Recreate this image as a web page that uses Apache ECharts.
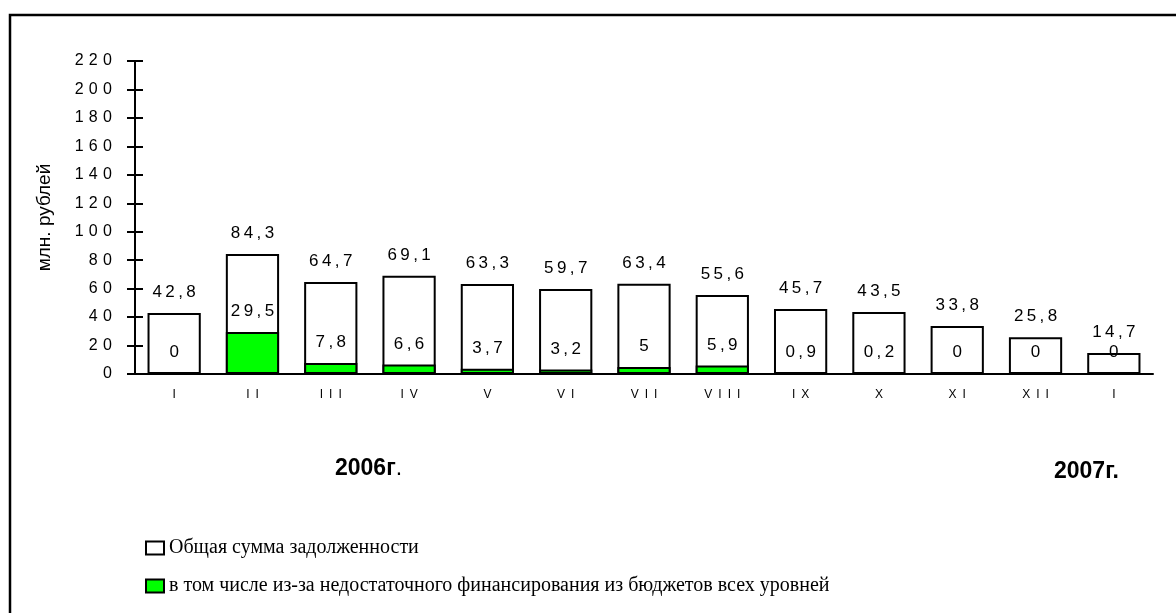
<!DOCTYPE html>
<html>
<head>
<meta charset="utf-8">
<script src="https://cdn.jsdelivr.net/npm/echarts@6/dist/echarts.min.js"></script>
<style>
  html, body { margin: 0; padding: 0; background: #fff; }
  #chart { width: 1176px; height: 613px; }
</style>
</head>
<body>
<div id="chart"></div>
<script>
  // месяцы
  var months = ['I', 'II', 'III', 'IV', 'V', 'VI', 'VII', 'VIII', 'IX', 'X', 'XI', 'XII', 'I'];
  // общая сумма задолженности, млн. рублей
  var totalDebt = [42.8, 84.3, 64.7, 69.1, 63.3, 59.7, 63.4, 55.6, 45.7, 43.5, 33.8, 25.8, 14.7];
  // в том числе из-за недостаточного финансирования
  var budgetDebt = [0, 29.5, 7.8, 6.6, 3.7, 3.2, 5, 5.9, 0.9, 0.2, 0, 0, 0];
  var yMin = 0, yMax = 220, yStep = 20;

  var seriesNames = ['Общая сумма задолженности',
    'в том числе из-за недостаточного финансирования из бюджетов всех уровней'];

  // разрядка как в оригинале: "8 4 , 3"
  function spaced (v, gap) {
    return String(v).replace('.', ',').split('').join(gap);
  }

  var valueLabel = {
    show: true,
    position: 'top',
    distance: 12,
    color: '#000',
    fontFamily: 'Liberation Sans, Arial',
    fontSize: 17,
    formatter: function (p) { return spaced(p.value, '\u2009'); }
  };

  var myChart = echarts.init(document.getElementById('chart'));
  var option = {
    backgroundColor: '#fff',
    animation: false,
    grid: { left: 135, right: 23, top: 61, bottom: 239 },
    legend: {
      orient: 'vertical',
      left: 140,
      top: 533,
      itemGap: 18,
      itemWidth: 18,
      itemHeight: 13,
      icon: 'rect',
      data: seriesNames,
      textStyle: { color: '#000', fontFamily: 'Liberation Serif, Times New Roman', fontSize: 20, lineHeight: 20 }
    },
    xAxis: [{
      type: 'category',
      data: months,
      axisLine: { lineStyle: { color: '#000', width: 2 } },
      axisTick: { length: 5, lineStyle: { color: '#000', width: 2 } },
      axisLabel: {
        color: '#000', fontFamily: 'Liberation Sans, Arial', fontSize: 12, margin: 15,
        formatter: function (v) { return v.split('').join('\u2002'); }
      }
    }, {
      type: 'category',
      data: months,
      position: 'bottom',
      axisLine: { show: false },
      axisTick: { inside: true, length: 5, lineStyle: { color: '#000', width: 2 } },
      axisLabel: { show: false }
    }],
    yAxis: [{
      type: 'value',
      min: yMin, max: yMax, interval: yStep,
      name: 'млн. рублей',
      nameLocation: 'middle',
      nameGap: 81,
      nameTextStyle: { color: '#000', fontFamily: 'Liberation Sans, Arial', fontSize: 19 },
      splitLine: { show: false },
      axisLine: { show: true, lineStyle: { color: '#000', width: 2 } },
      axisTick: { show: true, length: 8, lineStyle: { color: '#000', width: 2 } },
      axisLabel: {
        color: '#000', fontFamily: 'Liberation Sans, Arial', fontSize: 16, margin: 23,
        formatter: function (v) { return spaced(v, '\u2004'); }
      }
    }, {
      type: 'value',
      min: yMin, max: yMax, interval: yStep,
      position: 'left',
      splitLine: { show: false },
      axisLine: { show: false },
      axisTick: { show: true, inside: true, length: 8, lineStyle: { color: '#000', width: 2 } },
      axisLabel: { show: false }
    }],
    series: [{
      name: seriesNames[0],
      type: 'bar',
      barWidth: '68%',
      barGap: '-100%',
      data: totalDebt,
      itemStyle: { color: '#fff', borderColor: '#000', borderWidth: 2 },
      label: valueLabel
    }, {
      name: seriesNames[1],
      type: 'bar',
      barWidth: '68%',
      barGap: '-100%',
      data: budgetDebt,
      itemStyle: { color: '#00ff00', borderColor: '#000', borderWidth: 2 },
      label: valueLabel
    }],
    graphic: [{
      type: 'rect',
      shape: { x: 10, y: 15, width: 1200, height: 700 },
      style: { fill: 'none', stroke: '#000', lineWidth: 2.5 },
      silent: true
    }, {
      type: 'text',
      x: 335, y: 469,
      style: {
        text: '{b|2006г}{n|.}',
        verticalAlign: 'middle',
        rich: {
          b: { fontFamily: 'Liberation Sans, Arial', fontWeight: 'bold', fontSize: 23, fill: '#000' },
          n: { fontFamily: 'Liberation Sans, Arial', fontSize: 23, fill: '#000' }
        }
      }
    }, {
      type: 'text',
      x: 1054, y: 472,
      style: {
        text: '2007г.',
        verticalAlign: 'middle',
        font: 'bold 23px "Liberation Sans", Arial',
        fill: '#000'
      }
    }]
  };
  myChart.setOption(option);
</script>
</body>
</html>
